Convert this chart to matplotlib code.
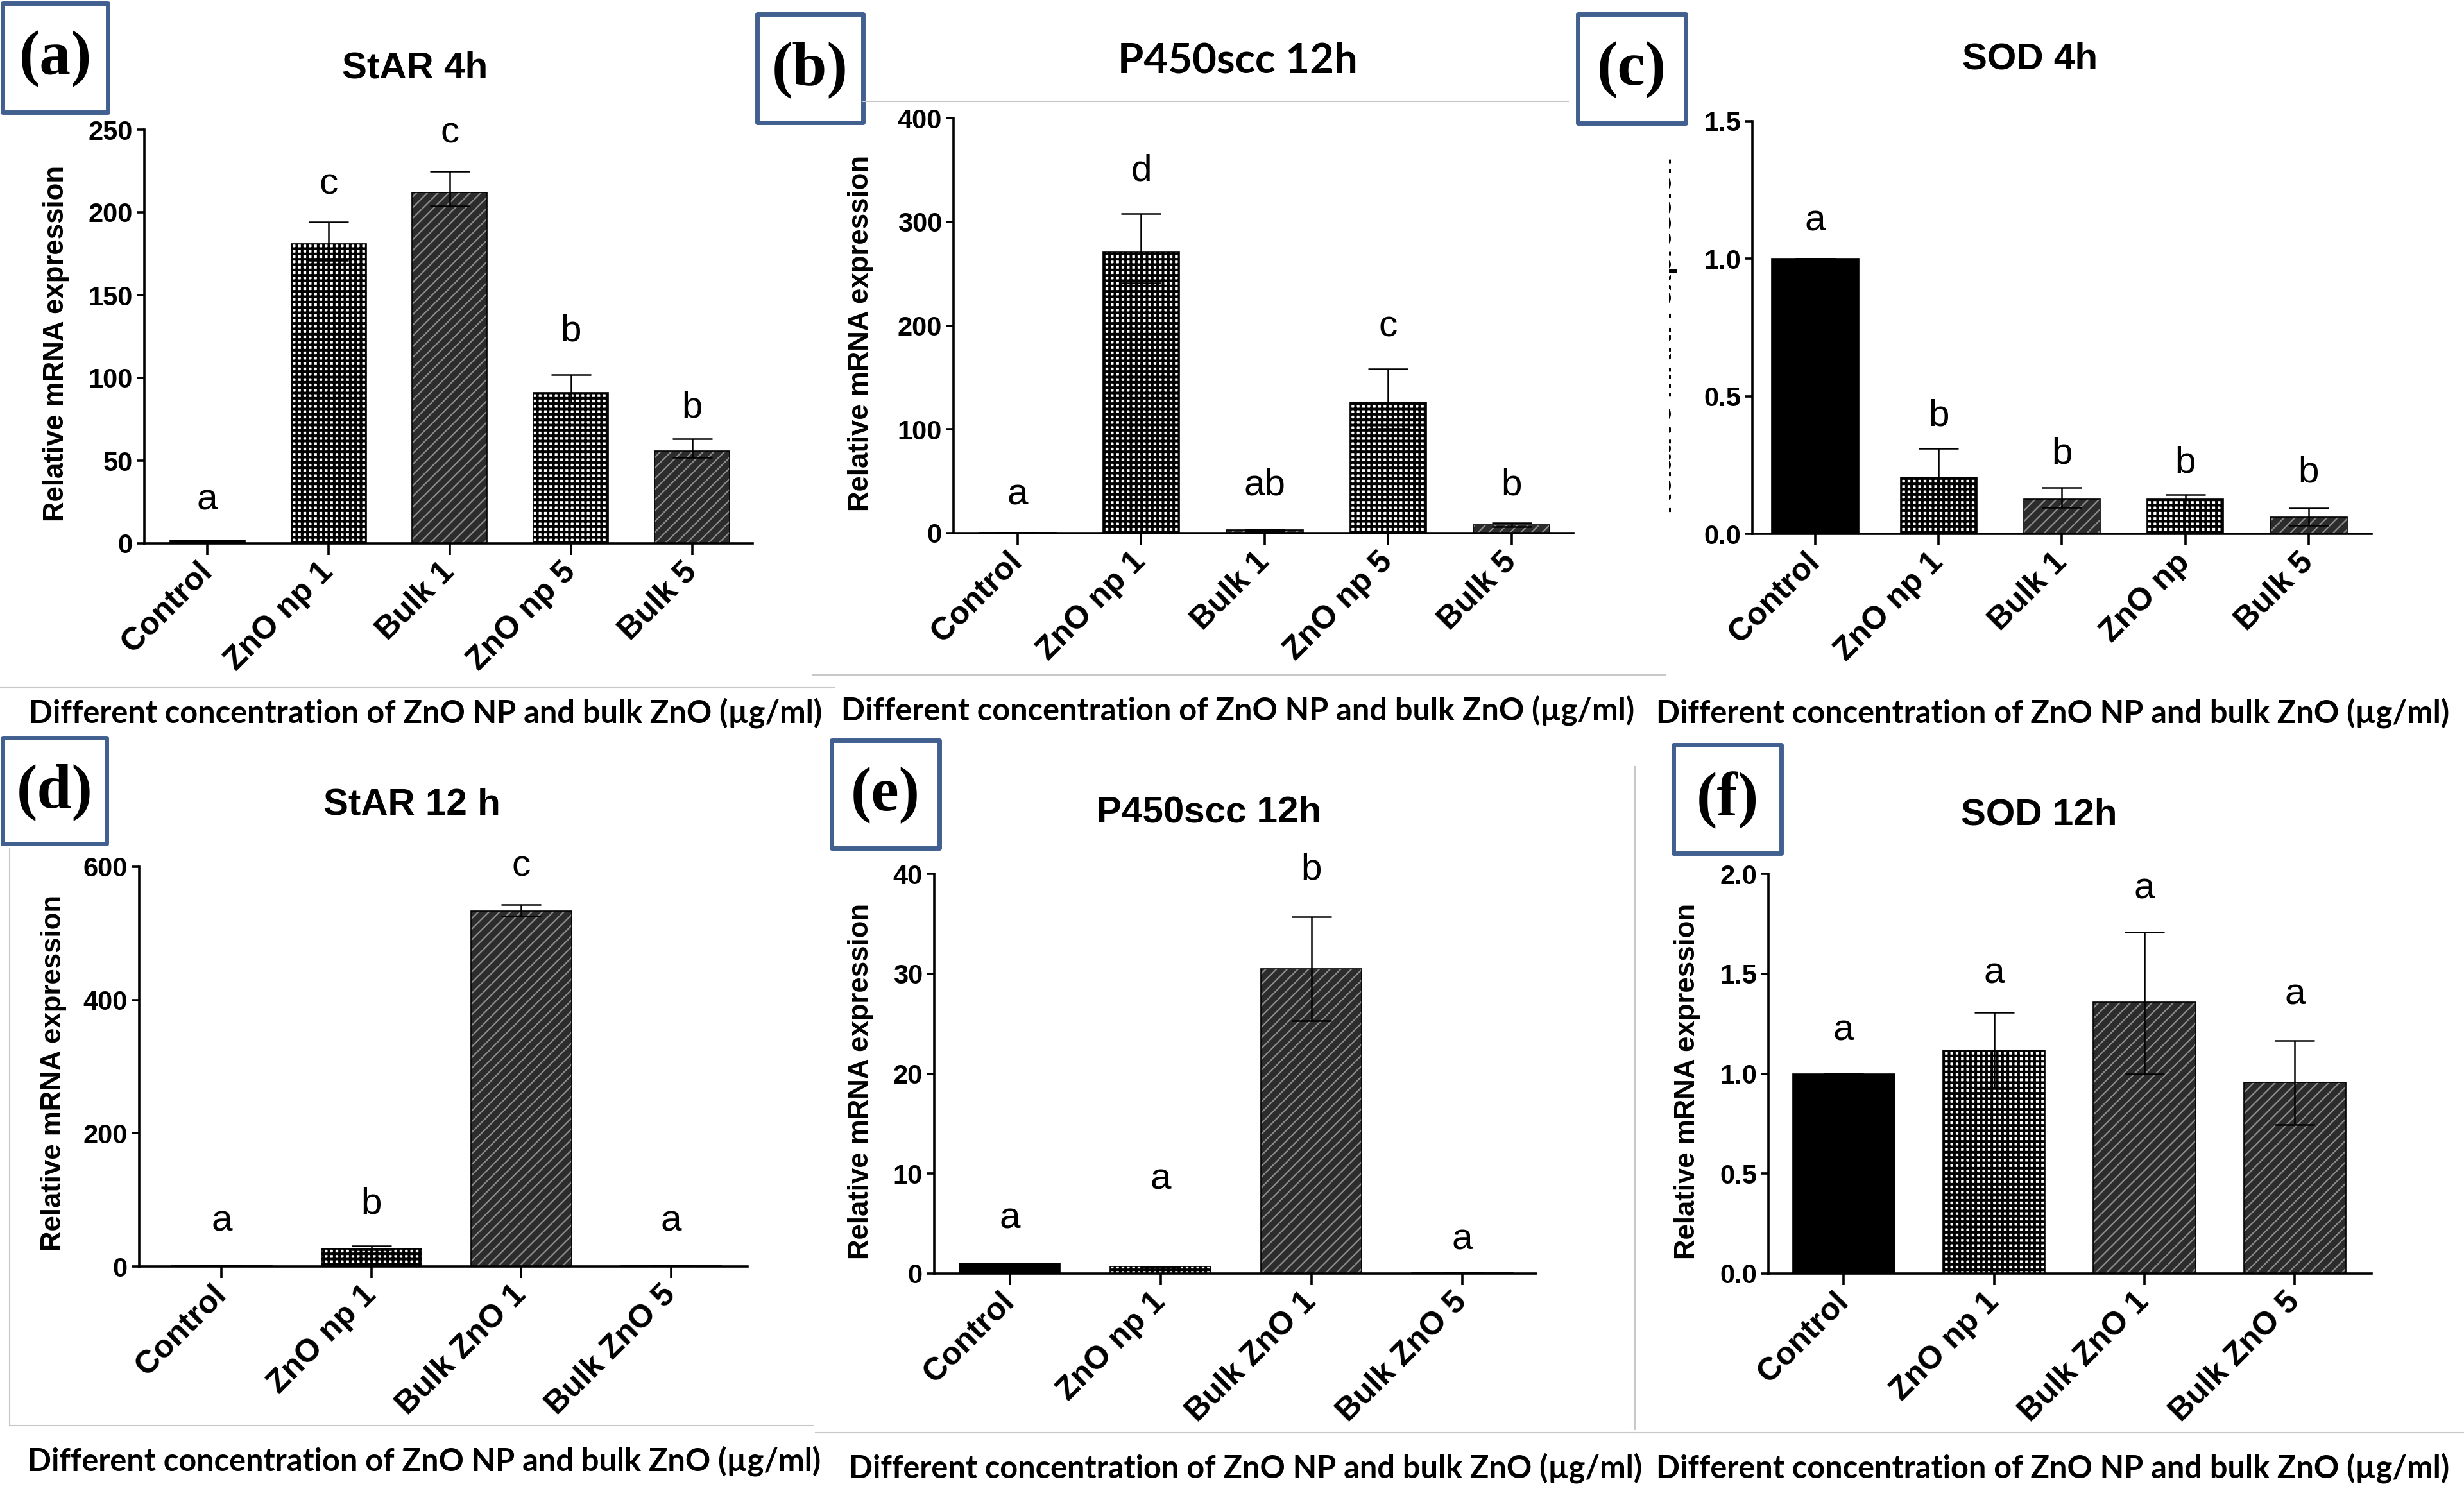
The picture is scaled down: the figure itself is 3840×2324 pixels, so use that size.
import numpy as np
import matplotlib
matplotlib.use('Agg')
import matplotlib.pyplot as plt
from matplotlib.patches import Rectangle
from matplotlib.lines import Line2D
from matplotlib.transforms import Bbox, TransformedBbox

# ---- данные ----
groups_5 = ['Control', 'ZnO np 1', 'Bulk 1', 'ZnO np 5', 'Bulk 5']
groups_5c = ['Control', 'ZnO np 1', 'Bulk 1', 'ZnO np', 'Bulk 5']
groups_4 = ['Control', 'ZnO np 1', 'Bulk ZnO 1', 'Bulk ZnO 5']

star_4h = [2, 181, 212, 91, 56]
star_4h_up = [0, 13, 13, 11, 7]
star_4h_lo = [0, 10, 8, 6, 4]
star_4h_let = ['a', 'c', 'c', 'b', 'b']
star_4h_let_y = [26, 217, 248, 128, 82]

p450_12h_b = [0.5, 271, 3, 126, 8]
p450_12h_b_up = [0, 37, 1, 32, 2]
p450_12h_b_lo = [0, 30, 1, 25, 2]
p450_12h_b_let = ['a', 'd', 'ab', 'c', 'b']
p450_12h_b_let_y = [37, 349, 46, 199, 46]

sod_4h = [1.0, 0.205, 0.125, 0.125, 0.06]
sod_4h_up = [0, 0.106, 0.043, 0.017, 0.034]
sod_4h_lo = [0, 0.08, 0.03, 0.017, 0.03]
sod_4h_let = ['a', 'b', 'b', 'b', 'b']
sod_4h_let_y = [1.137, 0.428, 0.291, 0.257, 0.222]

star_12h = [1, 27, 534, 0.5]
star_12h_up = [0, 4, 9, 0]
star_12h_lo = [0, 2, 8, 0]
star_12h_let = ['a', 'b', 'c', 'a']
star_12h_let_y = [68, 94, 600, 68]

p450_12h = [1.0, 0.7, 30.5, 0.05]
p450_12h_up = [0, 0, 5.2, 0]
p450_12h_lo = [0, 0, 5.2, 0]
p450_12h_let = ['a', 'a', 'b', 'a']
p450_12h_let_y = [5.5, 9.4, 40.4, 3.4]

sod_12h = [1.0, 1.118, 1.358, 0.957]
sod_12h_up = [0, 0.187, 0.349, 0.209]
sod_12h_lo = [0, 0.193, 0.36, 0.212]
sod_12h_let = ['a', 'a', 'a', 'a']
sod_12h_let_y = [1.214, 1.502, 1.923, 1.394]

caption = 'Different concentration of ZnO NP and bulk ZnO (µg/ml)'
ylab = 'Relative mRNA expression'

W, H = 3840, 2324
SANS = ['Liberation Sans', 'DejaVu Sans']
plt.rcParams['font.family'] = SANS
plt.rcParams['hatch.linewidth'] = 2.0

fig = plt.figure(figsize=(W / 100, H / 100), dpi=100)


def fx(x):
    return x / W


def fy(y):
    return 1 - y / H


def hatch_lw(bars, lw):
    # толщина штриховки отдельно для каждого вида, если версия это умеет
    for b in bars:
        if hasattr(b, 'set_hatch_linewidth'):
            b.set_hatch_linewidth(lw)


def draw_bars(ax, vals, kinds, widths):
    x = np.arange(len(vals))
    for i, v in enumerate(vals):
        k = kinds[i]
        if k == 'solid':
            ax.bar(x[i], v, widths[i], color='black', edgecolor='black', linewidth=1.2, zorder=2)
            continue
        if k == 'check':
            bars = ax.bar(x[i], v, widths[i], color='white', edgecolor='black',
                          hatch='++', linewidth=0, zorder=2)
            hatch_lw(bars, 2.9)
        else:
            bars = ax.bar(x[i], v, widths[i], color='#2c2c2c', edgecolor='#8c8c8c',
                          hatch='//', linewidth=0, zorder=2)
            hatch_lw(bars, 1.6)
        ax.bar(x[i], v, widths[i], fill=False, edgecolor='black', linewidth=1.2, zorder=3)


k5 = ['solid', 'check', 'stripe', 'check', 'stripe']
k4 = ['solid', 'check', 'stripe', 'stripe']

# положение каждой панели в пикселях исходной картинки
panels = [
    dict(tag='(a)', title='StAR 4h', labels=groups_5, v=star_4h, up=star_4h_up, lo=star_4h_lo,
         let=star_4h_let, let_y=star_4h_let_y, kinds=k5, w=[0.62] * 5,
         ax=(225, 1173, 847, 202), xl=(-0.52, 4.5), yt=[0, 50, 100, 150, 200, 250], fmt='{:.0f}',
         title_xy=(647, 106), box=(4, 5, 168, 175), ylab_xy=(88, 535), cap_xy=(663, 1111)),
    dict(tag='(b)', title='P450scc 12h', labels=groups_5, v=p450_12h_b, up=p450_12h_b_up,
         lo=p450_12h_b_lo, let=p450_12h_b_let, let_y=p450_12h_b_let_y, kinds=k5, w=[0.62] * 5,
         ax=(1486, 2452, 831, 184), xl=(-0.52, 4.5), yt=[0, 100, 200, 300, 400], fmt='{:.0f}',
         title_xy=(1929, 95), box=(1180, 22, 1345, 191), ylab_xy=(1341, 519), cap_xy=(1929, 1107)),
    dict(tag='(c)', title='SOD 4h', labels=groups_5c, v=sod_4h, up=sod_4h_up, lo=sod_4h_lo,
         let=sod_4h_let, let_y=sod_4h_let_y, kinds=k5, w=[0.71, 0.62, 0.62, 0.62, 0.62],
         ax=(2731, 3696, 832, 189), xl=(-0.51, 4.51), yt=[0, 0.5, 1.0, 1.5], fmt='{:.1f}',
         title_xy=(3164, 92), box=(2459, 22, 2627, 192), ylab_xy=(2593, 522), cap_xy=(3199, 1111)),
    dict(tag='(d)', title='StAR 12 h', labels=groups_4, v=star_12h, up=star_12h_up, lo=star_12h_lo,
         let=star_12h_let, let_y=star_12h_let_y, kinds=k4, w=[0.67] * 4,
         ax=(217, 1165, 1974, 1351), xl=(-0.55, 3.51), yt=[0, 200, 400, 600], fmt='{:.0f}',
         title_xy=(642, 1255), box=(4, 1150, 166, 1315), ylab_xy=(84, 1672), cap_xy=(661, 2277)),
    dict(tag='(e)', title='P450scc 12h', labels=groups_4, v=p450_12h, up=p450_12h_up, lo=p450_12h_lo,
         let=p450_12h_let, let_y=p450_12h_let_y, kinds=k4, w=[0.67] * 4,
         ax=(1456, 2394, 1985, 1362), xl=(-0.50, 3.49), yt=[0, 10, 20, 30, 40], fmt='{:.0f}',
         title_xy=(1884, 1266), box=(1296, 1154, 1464, 1322), ylab_xy=(1341, 1685), cap_xy=(1941, 2288)),
    dict(tag='(f)', title='SOD 12h', labels=groups_4, v=sod_12h, up=sod_12h_up, lo=sod_12h_lo,
         let=sod_12h_let, let_y=sod_12h_let_y, kinds=k4, w=[0.68] * 4,
         ax=(2756, 3696, 1985, 1362), xl=(-0.50, 3.51), yt=[0, 0.5, 1.0, 1.5, 2.0], fmt='{:.1f}',
         title_xy=(3178, 1270), box=(2608, 1161, 2776, 1330), ylab_xy=(2629, 1685), cap_xy=(3199, 2288)),
]

for p in panels:
    l, r, b, t = p['ax']
    ax = fig.add_axes([fx(l), fy(b), (r - l) / W, (b - t) / H])
    draw_bars(ax, p['v'], p['kinds'], p['w'])
    x = np.arange(len(p['v']))
    ax.errorbar(x, p['v'], yerr=[p['lo'], p['up']], fmt='none', ecolor='black',
                elinewidth=1.8, capsize=22, capthick=1.8, zorder=4)
    for i, s in enumerate(p['let']):
        ax.text(x[i], p['let_y'][i], s, ha='center', va='center', fontsize=42, zorder=5)

    ax.set_xlim(*p['xl'])
    ax.set_ylim(p['yt'][0], p['yt'][-1])
    ax.set_yticks(p['yt'])
    ax.set_yticklabels([p['fmt'].format(v) for v in p['yt']], fontsize=30, fontweight='bold')
    ax.set_xticks(x)
    ax.set_xticklabels(p['labels'], rotation=45, ha='right', va='center',
                       rotation_mode='anchor', fontsize=36, fontweight='bold')
    ax.tick_params(axis='y', length=8, width=2.6, pad=5)
    ax.tick_params(axis='x', length=13, width=2.6, pad=14)
    for s in ['top', 'right']:
        ax.spines[s].set_visible(False)
    for s in ['left', 'bottom']:
        ax.spines[s].set_linewidth(2.6)
    ax.patch.set_alpha(0)

    # заголовок
    if p['tag'] == '(b)':
        fig.text(fx(p['title_xy'][0]), fy(p['title_xy'][1]), p['title'], ha='center', va='center',
                 family=['Lato', 'DejaVu Sans'], fontweight='bold', fontsize=47)
    else:
        fig.text(fx(p['title_xy'][0]), fy(p['title_xy'][1]), p['title'], ha='center', va='center',
                 fontweight='bold', fontsize=42)

    # подпись оси y (в (c) она обрезана краем исходного снимка)
    yl = fig.text(fx(p['ylab_xy'][0]), fy(p['ylab_xy'][1]), ylab, rotation=90, ha='center',
                  va='center', fontweight='bold', fontsize=31.5)
    if p['tag'] == '(c)':
        yl.set_clip_box(TransformedBbox(Bbox([[fx(2601), 0], [fx(2700), 1]]), fig.transFigure))

    # подпись снизу
    fig.text(fx(p['cap_xy'][0]), fy(p['cap_xy'][1]), caption, ha='center', va='center',
             family=['Lato', 'DejaVu Sans'], fontweight='bold', fontsize=35)

    # рамка с буквой
    x0, y0, x1, y1 = p['box']
    fig.add_artist(Rectangle((fx(x0), fy(y1)), (x1 - x0) / W, (y1 - y0) / H, transform=fig.transFigure,
                             fill=False, edgecolor='#41608f', linewidth=5, joinstyle='round'))
    fig.text(fx((x0 + x1) / 2), fy((y0 + y1) / 2 + 2), p['tag'], ha='center', va='center',
             family=['Liberation Serif', 'DejaVu Serif'], fontweight='bold', fontsize=70)

# серые края исходных снимков
grey_lines = [
    ((0, 1072), (1300, 1072)),
    ((1266, 1052), (2596, 1052)),
    ((1345, 158), (2444, 158)),
    ((15, 1322), (15, 2222)),
    ((15, 2222), (1268, 2222)),
    ((1271, 2233), (2548, 2233)),
    ((2548, 1195), (2548, 2228)),
    ((2540, 2233), (3840, 2233)),
]
for (xa, ya), (xb, yb) in grey_lines:
    fig.add_artist(Line2D([fx(xa), fx(xb)], [fy(ya), fy(yb)], color='#c8c8c8', linewidth=1.5))

fig.savefig('out.png', dpi=100)
